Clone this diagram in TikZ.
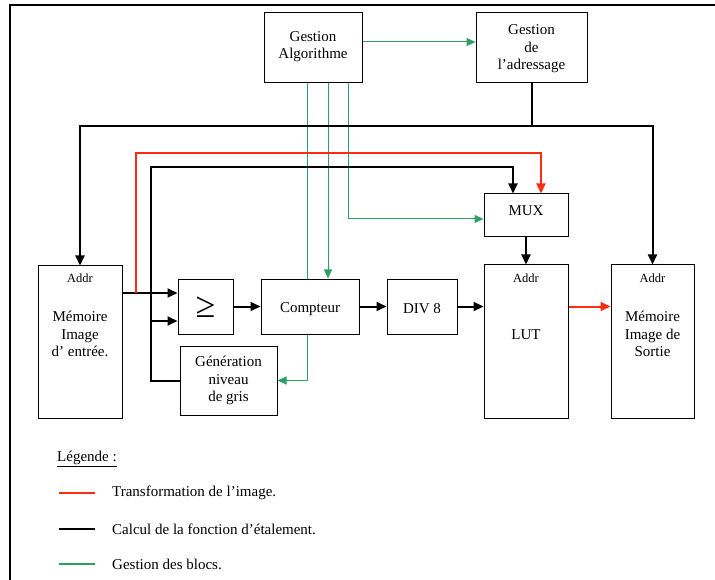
\documentclass[tikz,border=0pt]{standalone}
\usepackage{fontspec}
\setmainfont{Liberation Serif}
\usetikzlibrary{arrows.meta}
\definecolor{cred}{RGB}{250,45,20}
\definecolor{cgreen}{RGB}{45,160,100}
\tikzset{
  box/.style={draw, line width=1pt, inner sep=0pt, font=\fontsize{15}{17.5}\selectfont, align=center},
  txt/.style={inner sep=0pt, font=\fontsize{15}{17.5}\selectfont, align=center},
  addr/.style={inner sep=0pt, font=\fontsize{12.5}{14}\selectfont},
  blk/.style={line width=2pt, black},
  rd/.style={line width=2pt, cred},
  gr/.style={line width=1pt, cgreen},
  tipb/.style={-{Triangle[length=10pt,width=9pt]}},
  tipg/.style={-{Triangle[length=9pt,width=8pt]}},
}
\begin{document}
\begin{tikzpicture}[x=1pt,y=-1pt]
\useasboundingbox (0,0) rectangle (715,580);
% frame
\draw[line width=1.6pt] (10,580) -- (10,5) -- (715,5);
% boxes
\node[box, minimum width=98pt, minimum height=70pt] (alg) at (313,48) {};
\node[txt] (algt) at (313,46.5) {Gestion\\Algorithme};
\node[box, minimum width=111pt, minimum height=70pt] (adr) at (531.5,48) {};
\node[txt] (adrt) at (531.5,49) {Gestion\\de\\l’adressage};
\node[box, minimum width=84pt, minimum height=152pt] (memin) at (80,342) {};
\node[addr] (memina) at (80,278) {Addr};
\node[txt] (memint) at (80,334) {Mémoire\\Image\\d’ entrée.};
\node[box, minimum width=55pt, minimum height=55pt] (ge) at (205.5,306.5) {};
\node[txt, font=\fontsize{36}{36}\selectfont] (get) at (205.5,307) {≥};
\node[box, minimum width=98pt, minimum height=55pt] (cpt) at (310,306.5) {};
\node[txt] (cptt) at (310,309) {Compteur};
\node[box, minimum width=70pt, minimum height=55pt] (div) at (422,306.5) {};
\node[txt] (divt) at (422,308.5) {DIV 8};
\node[box, minimum width=84pt, minimum height=153pt] (lut) at (526,341.5) {};
\node[addr] (luta) at (526,278) {Addr};
\node[txt] (lutt) at (526,335) {LUT};
\node[box, minimum width=84pt, minimum height=43pt] (mux) at (526,215.5) {};
\node[txt] (muxt) at (526,211) {MUX};
\node[box, minimum width=83pt, minimum height=153pt] (memout) at (652.5,341.5) {};
\node[addr] (memouta) at (652.5,278) {Addr};
\node[txt] (memoutt) at (652.5,334) {Mémoire\\Image de\\Sortie};
\node[box, minimum width=97pt, minimum height=69pt] (gen) at (228.5,380.5) {Génération\\niveau\\de gris};
% helper coordinates
\coordinate (xa) at (307,0);
\coordinate (xb) at (328,0);
\coordinate (xc) at (348,0);
\coordinate (ya) at (0,42);
\coordinate (ym) at (0,219);
\coordinate (yb) at (0,126);
\coordinate (yr) at (0,293);
\coordinate (xr) at (136,0);
\coordinate (yrt) at (0,153);
\coordinate (xrm) at (541,0);
\coordinate (xk) at (151,0);
\coordinate (yk) at (0,167);
\coordinate (xkm) at (513,0);
\coordinate (yl) at (0,321);
% green connectors
\draw[gr, tipg] (alg.east |- ya) -- (adr.west |- ya);
\draw[gr] (alg.south -| xa) -- (cpt.north -| xa);
\draw[gr, tipg] (alg.south -| xb) -- (cpt.north -| xb);
\draw[gr, tipg] (alg.south -| xc) |- (mux.west |- ym);
\draw[gr, tipg] (cpt.south -| xa) |- (gen.east);
% black connectors
\draw[blk] (adr.south) -- (adr.south |- yb);
\draw[blk, tipb] (adr.south |- yb) -| (memin.north);
\draw[blk, tipb] (adr.south |- yb) -| (memout.north);
\draw[blk, tipb] (memin.east |- yr) -- (ge.west |- yr);
\draw[blk, tipb] (gen.west) -| (xk |- yk) -| (mux.north -| xkm);
\draw[blk, tipb] (xk |- yl) -- (ge.west |- yl);
\draw[blk, tipb] (ge.east) -- (cpt.west);
\draw[blk, tipb] (cpt.east) -- (div.west);
\draw[blk, tipb] (div.east) -- (lut.west |- div.east);
\draw[blk, tipb] (mux.south) -- (lut.north);
% red connectors
\draw[rd, tipb] (xr |- yr) -- (xr |- yrt) -| (mux.north -| xrm);
\draw[rd, tipb] (lut.east |- div.east) -- (memout.west |- div.east);
% legend
\node[txt, anchor=west] (leg) at (57,459) {\underline{Légende :}};
\coordinate (l1a) at (59,493); \coordinate (l1b) at (95,493);
\coordinate (l2a) at (59,529); \coordinate (l2b) at (95,529);
\coordinate (l3a) at (59,564); \coordinate (l3b) at (95,564);
\draw[rd] (l1a) -- (l1b);
\draw[blk] (l2a) -- (l2b);
\draw[line width=2pt, cgreen] (l3a) -- (l3b);
\node[txt, anchor=west] (lt1) at (112,493) {Transformation de l’image.};
\node[txt, anchor=west] (lt2) at (112,529) {Calcul de la fonction d’étalement.};
\node[txt, anchor=west] (lt3) at (112,564) {Gestion des blocs.};
\end{tikzpicture}
\end{document}
